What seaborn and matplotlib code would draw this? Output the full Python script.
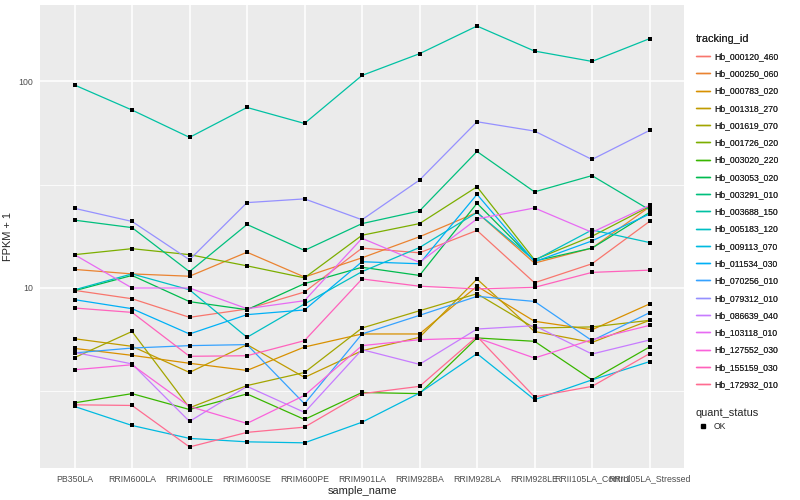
import numpy as np
import pandas as pd
import matplotlib
matplotlib.use('Agg')
import matplotlib.pyplot as plt
from matplotlib.lines import Line2D
from matplotlib.ticker import FixedLocator, NullFormatter
import seaborn as sns

# sample order on the x axis
samples = ['PB350LA', 'RRIM600LA', 'RRIM600LE', 'RRIM600SE', 'RRIM600PE', 'RRIM901LA',
           'RRIM928BA', 'RRIM928LA', 'RRIM928LE', 'RRII105LA_Control', 'RRII105LA_Stressed']

# FPKM + 1 per gene
hb_000120_460 = [9.74, 8.87, 7.21, 7.91, 9.56, 15.6, 14.8, 19.0, 10.6, 13.1, 21.0]
hb_000250_060 = [12.3, 11.7, 11.4, 14.9, 11.3, 14.0, 17.7, 23.2, 13.2, 15.6, 24.7]
hb_000783_020 = [5.10, 4.72, 4.32, 3.99, 5.18, 5.99, 5.99, 10.2, 6.90, 6.28, 8.37]
hb_001318_270 = [5.68, 5.22, 3.90, 5.32, 3.69, 4.97, 5.77, 11.05, 6.16, 5.45, 6.97]
hb_001619_070 = [4.60, 6.16, 2.63, 3.37, 3.90, 6.40, 7.76, 9.38, 6.40, 6.48, 6.97]
hb_001726_020 = [14.5, 15.5, 14.5, 12.8, 11.2, 18.0, 20.5, 30.9, 13.7, 17.8, 24.8]
hb_003020_220 = [2.78, 3.08, 2.58, 3.07, 2.31, 3.12, 3.08, 5.73, 5.52, 3.59, 5.18]
hb_003053_020 = [9.7, 11.5, 8.59, 7.85, 10.5, 12.6, 11.5, 25.7, 13.5, 15.6, 23.2]
hb_003291_010 = [21.3, 19.6, 12.0, 20.3, 15.2, 20.5, 23.6, 45.8, 29.2, 35.0, 23.9]
hb_003688_150 = [96.1, 72.7, 53.6, 74.8, 62.6, 106.9, 136.2, 185.4, 140.3, 125.0, 161.0]
hb_005183_120 = [9.8, 11.7, 9.8, 5.77, 8.37, 12.0, 15.7, 23.2, 13.6, 19.1, 16.6]
hb_009113_070 = [2.67, 2.16, 1.87, 1.80, 1.78, 2.24, 3.10, 4.81, 2.88, 3.59, 4.40]
hb_011534_030 = [8.78, 7.94, 5.99, 7.43, 7.83, 13.4, 13.1, 28.4, 13.4, 16.9, 22.8]
hb_070256_010 = [4.85, 5.12, 5.26, 5.32, 2.75, 5.99, 7.37, 9.11, 8.61, 5.56, 7.59]
hb_079312_010 = [24.3, 21.0, 13.7, 25.9, 27.0, 21.4, 33.3, 63.8, 57.5, 41.9, 57.9]
hb_086639_040 = [4.88, 4.29, 2.26, 3.34, 2.50, 5.03, 4.27, 6.33, 6.57, 4.79, 5.60]
hb_103118_010 = [14.5, 10.0, 10.0, 7.94, 8.68, 17.4, 13.3, 21.6, 24.4, 18.6, 25.1]
hb_127552_030 = [4.02, 4.25, 2.67, 2.21, 3.02, 5.26, 5.62, 5.73, 4.58, 5.62, 6.59]
hb_155159_030 = [8.0, 7.62, 4.67, 4.70, 5.56, 11.06, 10.2, 9.9, 10.07, 11.9, 12.2]
hb_172932_010 = [2.72, 2.70, 1.70, 2.00, 2.12, 3.08, 3.34, 5.83, 2.97, 3.34, 4.81]

tracking_ids = ['Hb_000120_460', 'Hb_000250_060', 'Hb_000783_020', 'Hb_001318_270',
                'Hb_001619_070', 'Hb_001726_020', 'Hb_003020_220', 'Hb_003053_020',
                'Hb_003291_010', 'Hb_003688_150', 'Hb_005183_120', 'Hb_009113_070',
                'Hb_011534_030', 'Hb_070256_010', 'Hb_079312_010', 'Hb_086639_040',
                'Hb_103118_010', 'Hb_127552_030', 'Hb_155159_030', 'Hb_172932_010']
series = [hb_000120_460, hb_000250_060, hb_000783_020, hb_001318_270, hb_001619_070,
          hb_001726_020, hb_003020_220, hb_003053_020, hb_003291_010, hb_003688_150,
          hb_005183_120, hb_009113_070, hb_011534_030, hb_070256_010, hb_079312_010,
          hb_086639_040, hb_103118_010, hb_127552_030, hb_155159_030, hb_172932_010]

# ggplot hue palette for 20 levels
gg_colors = ['#F8766D', '#EA8331', '#D89000', '#C09B00', '#A3A500', '#7CAE00', '#39B600',
             '#00BB4E', '#00BF7D', '#00C1A3', '#00BFC4', '#00BAE0', '#00B0F6', '#35A2FF',
             '#9590FF', '#C77CFF', '#E76BF3', '#FA62DB', '#FF62BC', '#FF6C91']

rows = []
for tid, vals in zip(tracking_ids, series):
    for s, v in zip(samples, vals):
        rows.append({'tracking_id': tid, 'sample_name': s, 'fpkm': v, 'quant_status': 'OK'})
df = pd.DataFrame(rows)

sns.set_theme(style='darkgrid', rc={
    'axes.facecolor': '#EBEBEB',
    'grid.color': 'white',
    'figure.facecolor': 'white',
})
plt.rcParams['font.family'] = ['Liberation Sans', 'DejaVu Sans']

fig = plt.figure(figsize=(8, 5), dpi=100)
ax = fig.add_axes([40 / 800, 32 / 500, 644 / 800, 463 / 500])

sns.lineplot(data=df, x='sample_name', y='fpkm', hue='tracking_id', hue_order=tracking_ids,
             palette=gg_colors, sort=False, linewidth=0.9, legend=False, ax=ax)
sns.scatterplot(data=df, x='sample_name', y='fpkm', color='black', marker='s', s=8,
                linewidth=0, legend=False, ax=ax, zorder=5)

ax.set_yscale('log')
lo, hi = np.log10(df['fpkm'].min()), np.log10(df['fpkm'].max())
pad = (hi - lo) * 0.05
ax.set_ylim(10 ** (lo - pad), 10 ** (hi + pad))
ax.set_xlim(-0.6, len(samples) - 0.4)

ax.yaxis.set_major_locator(FixedLocator([10, 100]))
ax.set_yticklabels(['10', '100'])
ax.yaxis.set_minor_locator(FixedLocator([10 ** 0.5, 10 ** 1.5]))
ax.yaxis.set_minor_formatter(NullFormatter())
ax.grid(True, which='major', color='white', linewidth=1.1)
ax.grid(True, which='minor', axis='y', color='white', linewidth=0.55)
for sp in ax.spines.values():
    sp.set_visible(False)

ax.tick_params(axis='both', which='major', length=2.7, width=0.8, color='#333333',
               labelsize=6.3, labelcolor='#4D4D4D', pad=2)
ax.tick_params(axis='y', which='minor', length=0)
ax.set_xlabel('sample_name', fontsize=7.9, labelpad=2)
ax.set_ylabel('FPKM + 1', fontsize=7.9, labelpad=4)

# legends, drawn like ggplot's guides
line_handles = [Line2D([0], [0], color=c, lw=1) for c in gg_colors]
leg1 = fig.legend(line_handles, tracking_ids, title='tracking_id', loc='upper left',
                  bbox_to_anchor=(688 / 800, 1 - 26 / 500), frameon=False, fontsize=6.2,
                  title_fontsize=7.9, labelspacing=0.96, handlelength=1.6,
                  handletextpad=0.5, alignment='left')
leg2 = fig.legend([Line2D([0], [0], color='black', marker='s', markersize=2.5, lw=0)], ['OK'],
                  title='quant_status', loc='upper left',
                  bbox_to_anchor=(688 / 800, 1 - 400 / 500), frameon=False, fontsize=6.2,
                  title_fontsize=7.9, handlelength=1.6, handletextpad=0.5, alignment='left')
fig.add_artist(leg1)

fig.savefig('out.png', dpi=100)
